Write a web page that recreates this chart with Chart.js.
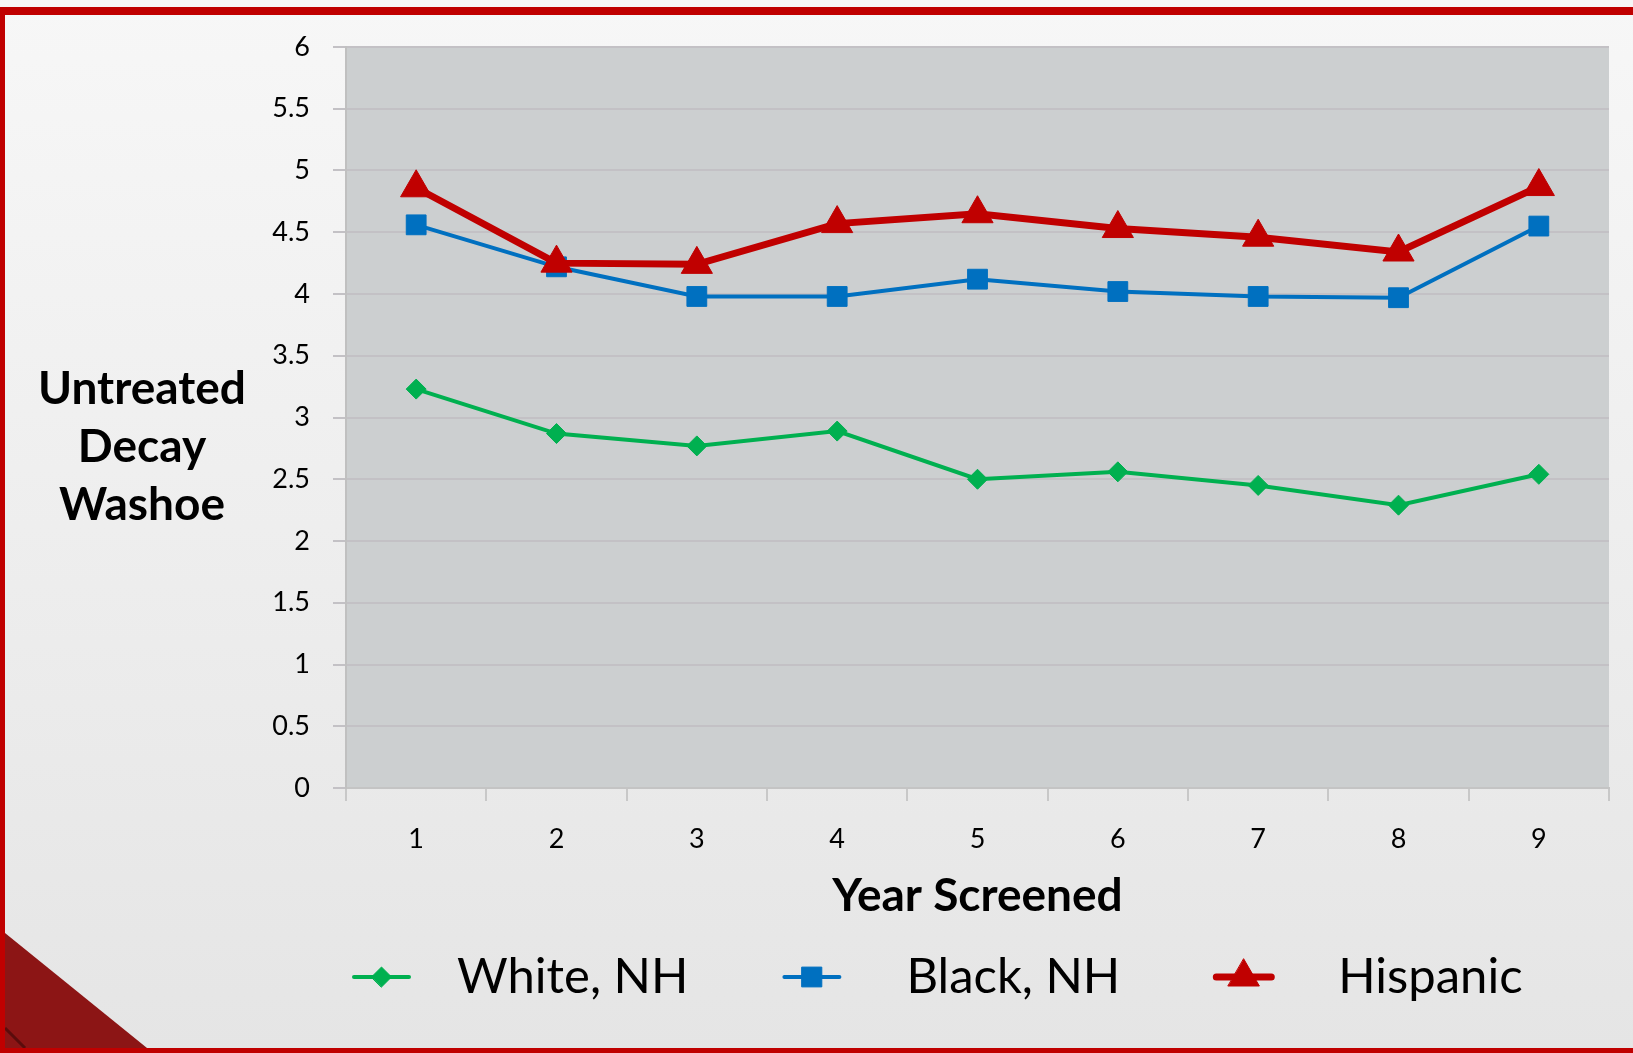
<!DOCTYPE html>
<html>
<head>
<meta charset="utf-8">
<script src="https://cdn.jsdelivr.net/npm/chart.js@4/dist/chart.umd.min.js"></script>
<style>
html,body{margin:0;padding:0;overflow:hidden;background:#eeeeee;}
#wrap{position:relative;width:1633px;height:1053px;}
canvas{display:block;}
</style>
</head>
<body>
<div id="wrap"><canvas id="c" width="1633" height="1053"></canvas></div>
<script>
// ---- data ----
const categories = ['1', '2', '3', '4', '5', '6', '7', '8', '9'];
const whiteNH  = [3.23, 2.87, 2.77, 2.89, 2.50, 2.56, 2.45, 2.29, 2.54];
const blackNH  = [4.56, 4.22, 3.98, 3.98, 4.12, 4.02, 3.98, 3.97, 4.55];
const hispanic = [4.86, 4.25, 4.24, 4.57, 4.65, 4.53, 4.46, 4.34, 4.87];
const seriesNames = ['White, NH', 'Black, NH', 'Hispanic'];
const yMin = 0, yMax = 6, yStep = 0.5;
const xTitle = 'Year Screened';
const yTitleLines = ['Untreated', 'Decay', 'Washoe'];

const GREEN = '#00b050', BLUE = '#0070c0', RED = '#c00000';
const FONT = 'Lato, "Open Sans", sans-serif';
// legend gap between symbol line and text, per entry
const legendGaps = [48, 67, 67];

const decorPlugin = {
  id: 'decor',
  beforeDraw(chart) {
    const ctx = chart.ctx, W = chart.width, H = chart.height;
    ctx.save();
    const g = ctx.createLinearGradient(0, 0, 0, H);
    g.addColorStop(0, '#f7f7f7');
    g.addColorStop(1, '#e5e5e5');
    ctx.fillStyle = g;
    ctx.fillRect(0, 0, W, H);
    // dark red corner triangle
    ctx.fillStyle = '#8c1515';
    ctx.beginPath();
    ctx.moveTo(5, 933); ctx.lineTo(147, 1048); ctx.lineTo(5, 1048); ctx.closePath();
    ctx.fill();
    ctx.strokeStyle = '#5a0c0c'; ctx.lineWidth = 3;
    ctx.beginPath(); ctx.moveTo(5, 1028); ctx.lineTo(25, 1048); ctx.stroke();
    // red frame (top, left, bottom)
    ctx.fillStyle = '#c00000';
    ctx.fillRect(0, 7, W, 8);
    ctx.fillRect(0, 7, 5, H - 7);
    ctx.fillRect(0, H - 5, W, 5);
    // plot area
    const a = chart.chartArea;
    ctx.fillStyle = '#cccfd0';
    ctx.fillRect(a.left, a.top, a.right - a.left, a.bottom - a.top);
    ctx.restore();
  },
  afterDraw(chart) {
    const ctx = chart.ctx, a = chart.chartArea;
    ctx.save();
    // y axis title (horizontal, three lines)
    ctx.fillStyle = '#000';
    ctx.font = 'bold 46px ' + FONT;
    ctx.textAlign = 'center';
    ctx.textBaseline = 'alphabetic';
    yTitleLines.forEach((t, i) => ctx.fillText(t, 142, a.top + 357 + i * 58));
    // legend
    const y = 977;
    let x = a.left + 8;
    ctx.font = '49px ' + FONT;
    ctx.textBaseline = 'middle';
    ctx.textAlign = 'left';
    chart.data.datasets.forEach((ds, i) => {
      ctx.strokeStyle = ds.borderColor;
      ctx.lineWidth = ds.borderWidth;
      ctx.lineCap = 'round';
      ctx.beginPath(); ctx.moveTo(x, y); ctx.lineTo(x + 55, y); ctx.stroke();
      ctx.fillStyle = ds.pointBackgroundColor;
      ctx.strokeStyle = ds.pointBorderColor;
      ctx.lineWidth = ds.pointBorderWidth;
      Chart.helpers.drawPoint(ctx, {pointStyle: ds.pointStyle, radius: ds.pointRadius, borderWidth: ds.pointBorderWidth, rotation: 0}, x + 27.5, y);
      ctx.fillStyle = '#000';
      const tx = x + 55 + legendGaps[i];
      ctx.fillText(ds.label, tx, y);
      x = tx + ctx.measureText(ds.label).width + 96;
    });
    ctx.restore();
  }
};

const mk = (label, data, color, width, style, radius, order) => ({
  label, data, order,
  borderColor: color, backgroundColor: color, borderWidth: width,
  pointStyle: style, pointRadius: radius, pointHoverRadius: radius,
  pointBackgroundColor: color, pointBorderColor: color, pointBorderWidth: 1,
  tension: 0, fill: false
});

new Chart(document.getElementById('c'), {
  type: 'line',
  data: {
    labels: categories,
    datasets: [
      mk(seriesNames[0], whiteNH, GREEN, 4, 'rectRot', 10, 2),
      mk(seriesNames[1], blackNH, BLUE, 4, 'rect', 14, 1),
      mk(seriesNames[2], hispanic, RED, 7, 'triangle', 18, 0)
    ]
  },
  options: {
    responsive: false,
    devicePixelRatio: 1,
    animation: false,
    layout: {padding: {left: 0, right: 24, top: 47, bottom: 115}},
    plugins: {legend: {display: false}, tooltip: {enabled: false}},
    scales: {
      x: {
        type: 'category',
        offset: true,
        grid: {offset: true, drawOnChartArea: false, color: '#c8c8c8', lineWidth: 2, tickLength: 13},
        border: {display: true, color: '#c4c4c4', width: 2},
        ticks: {color: '#000', font: {family: FONT, size: 27}, padding: 22, maxRotation: 0},
        title: {display: true, text: xTitle, color: '#000', font: {family: FONT, size: 46, weight: 'bold'}, padding: {top: 0, bottom: 14}},
        afterFit(s) { s.height = 150; }
      },
      y: {
        min: yMin, max: yMax,
        ticks: {stepSize: yStep, color: '#000', font: {family: FONT, size: 27}, padding: 23,
                callback: v => String(Number(v))},
        grid: {color: '#c3c1c5', lineWidth: 2, tickLength: 13},
        border: {display: true, color: '#c0c0c0', width: 2},
        afterFit(s) { s.width = 346; }
      }
    }
  },
  plugins: [decorPlugin]
});
</script>
</body>
</html>
